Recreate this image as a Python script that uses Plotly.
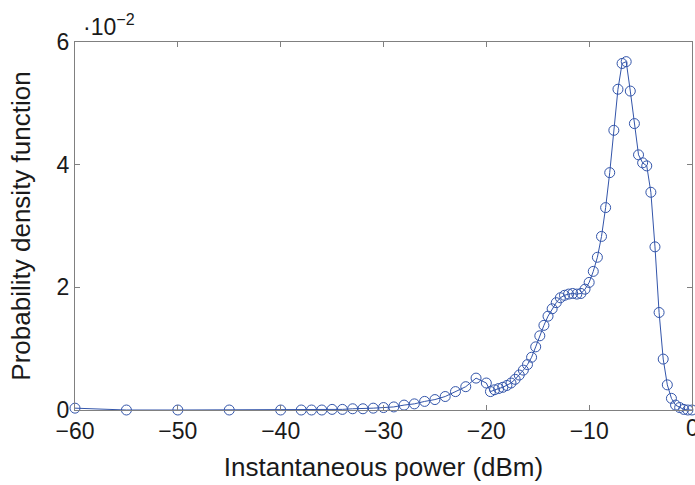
import plotly.graph_objects as go

# Instantaneous power (dBm)
power_coarse = [-60, -55, -50, -45, -40, -38, -37, -36, -35, -34, -33, -32, -31, -30,
                -29, -28, -27, -26, -25, -24, -23, -22, -21, -20]
pdf_coarse = [0.0003, 0.0, 0.0, 0.0, 0.0, 0.0, 0.0, 0.0, 0.0001, 0.0001, 0.0002, 0.0002,
              0.0003, 0.0004, 0.0005, 0.0008, 0.0010, 0.0014, 0.0017, 0.0022, 0.0030,
              0.0038, 0.0052, 0.0044]

power_fine = [-19.6, -19.2, -18.8, -18.4, -18.0, -17.6, -17.2, -16.8, -16.4, -16.0,
              -15.6, -15.2, -14.8, -14.4, -14.0, -13.6, -13.2, -12.8, -12.4, -12.0,
              -11.6, -11.2, -10.8, -10.4, -10.0, -9.6, -9.2, -8.8, -8.4, -8.0,
              -7.6, -7.2, -6.8, -6.4, -6.0, -5.6, -5.2, -4.8, -4.4, -4.0,
              -3.6, -3.2, -2.8, -2.4, -2.0, -1.6, -1.2, -0.8, -0.4, 0.0]
pdf_fine = [0.0030, 0.0033, 0.0035, 0.0037, 0.0040, 0.0044, 0.0050, 0.0057, 0.0065, 0.0074,
            0.0086, 0.0103, 0.0121, 0.0138, 0.0153, 0.0165, 0.0175, 0.0183, 0.0187, 0.0189,
            0.0190, 0.0189, 0.0190, 0.0197, 0.0208, 0.0226, 0.0249, 0.0283, 0.0330, 0.0387,
            0.0456, 0.0523, 0.0565, 0.0568, 0.0520, 0.0467, 0.0416, 0.0403, 0.0398, 0.0355,
            0.0266, 0.0159, 0.0083, 0.0041, 0.0019, 0.0008, 0.0004, 0.0001, 0.0, 0.0]

x_ticks = [-60, -50, -40, -30, -20, -10, 0]
y_ticks = [0, 0.02, 0.04, 0.06]
y_ticktext = ["0", "2", "4", "6"]

power = power_coarse + power_fine
pdf = pdf_coarse + pdf_fine

FONT = "Liberation Sans, Arial, sans-serif"
TXT = "#1a1a1a"
color = "#3355aa"

fig = go.Figure()
fig.add_trace(go.Scatter(
    x=power, y=pdf, mode="lines+markers",
    line=dict(color=color, width=1),
    marker=dict(symbol="circle-open", size=10, color=color, line=dict(width=1, color=color)),
    cliponaxis=False, showlegend=False,
))

axis_common = dict(
    showgrid=False, zeroline=False, showline=True, linecolor="#808080", linewidth=1,
    mirror="ticks", ticks="inside", ticklen=5, tickcolor="#808080",
    tickfont=dict(family=FONT, size=23, color=TXT),
)
fig.update_xaxes(range=[-60, 0], tickvals=x_ticks,
                 title=dict(text="Instantaneous power (dBm)", standoff=15,
                            font=dict(family=FONT, size=26, color=TXT)),
                 **axis_common)
fig.update_yaxes(range=[0, 0.06], tickvals=y_ticks, ticktext=y_ticktext,
                 title=dict(text="Probability density function", standoff=18,
                            font=dict(family=FONT, size=26, color=TXT)),
                 **axis_common)

# right-most x tick label (partially cut at the figure edge, as in the reference)
fig.add_annotation(x=x_ticks[-1], y=0, xref="x", yref="y", xanchor="center", yanchor="top",
                   yshift=-3, showarrow=False, text="0",
                   font=dict(family=FONT, size=23, color=TXT))

fig.add_annotation(x=0, y=1, xref="paper", yref="paper", xanchor="left", yanchor="bottom",
                   xshift=6, yshift=0, showarrow=False,
                   text="·10<sup>−2</sup>",
                   font=dict(family=FONT, size=23, color=TXT))

fig.update_layout(
    width=695, height=485,
    margin=dict(l=75, r=3, t=42, b=75),
    plot_bgcolor="white", paper_bgcolor="white",
)
fig.write_html("out.html")
